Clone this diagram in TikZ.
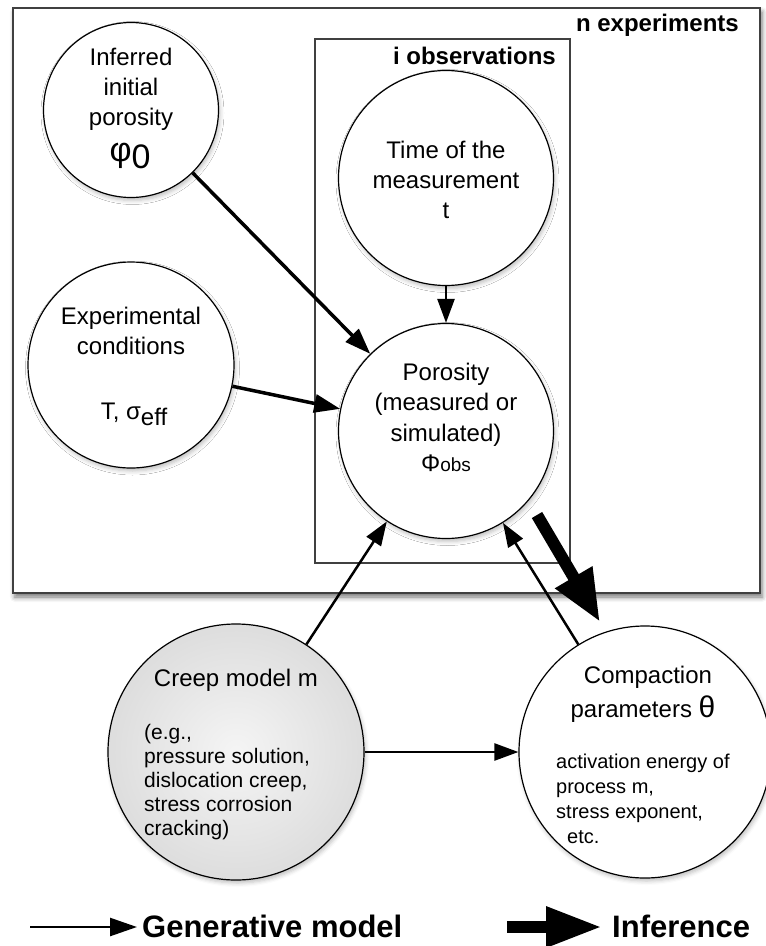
\documentclass[tikz,border=0pt]{standalone}
\usepackage{fontspec}
\setmainfont{Liberation Sans}
\usetikzlibrary{arrows.meta,shadows,shadows.blur}
\pgfdeclareradialshading{creepshade}{\pgfpoint{0bp}{0bp}}{color(0bp)=(gray!8); color(50bp)=(gray!45); color(72bp)=(gray!45)}
\begin{document}
\begin{tikzpicture}[x=1pt,y=-1pt,
  bubble/.style={circle, draw=black, line width=1.2pt, fill=white, inner sep=0pt,
    blur shadow={shadow xshift=1.5pt, shadow yshift=-3pt, shadow blur radius=4pt, shadow opacity=25}},
  txt/.style={inner sep=0pt, font=\fontsize{24}{30}\selectfont, align=center},
  small/.style={inner sep=0pt, font=\fontsize{21}{24}\selectfont, align=left},
  lbl/.style={inner sep=0pt, font=\bfseries\fontsize{24}{28}\selectfont},
  leg/.style={inner sep=0pt, font=\bfseries\fontsize{31}{36}\selectfont},
  arr/.style={-{Triangle[length=24pt,width=17pt,fill=black]}, draw=black, line width=2.5pt, fill opacity=1, draw opacity=1},
  boldarr/.style={-{Triangle[length=26pt,width=18pt,fill=black]}, draw=black, line width=3.5pt, fill opacity=1, draw opacity=1},
  fatarr/.style={-{Triangle[length=52pt,width=40pt,fill=black]}, draw=black, line width=12pt, fill opacity=1, draw opacity=1},
  frame/.style={draw=black!75, line width=1.3pt}
]
\useasboundingbox (0,0) rectangle (766,946);

% plates
\draw[frame, fill=white, blur shadow={shadow xshift=2pt, shadow yshift=-4pt, shadow blur radius=5pt, shadow opacity=55}] (13,8) rectangle (760,593);
\draw[frame] (315,39) rectangle (570,563);
\node[lbl, anchor=base east] (nexp) at (739,31) {n experiments};
\node[lbl, anchor=base east] (iobs) at (556,64) {i observations};

% circles
\node[bubble, minimum size=175pt] (inf) at (131,110) {};
\node[bubble, minimum size=215pt] (time) at (446,178) {};
\node[bubble, minimum size=206pt] (exp) at (131,365) {};
\node[bubble, minimum size=215pt] (por) at (446,431) {};
\node[bubble, minimum size=256pt, shading=creepshade] (creep) at (236,752) {};
\node[bubble, minimum size=252pt] (comp) at (645,752) {};

% texts
\node[txt, anchor=north] (infT) at (131,47.7) {Inferred\\initial\\porosity};
\node[inner sep=0pt, anchor=base, font=\fontsize{34}{34}\selectfont] (infS) at (130,161) {φ\raisebox{-7pt}{0}};
\node[txt, anchor=north] (timeT) at (446,140.7) {Time of the\\measurement\\t};
\node[txt, anchor=north, font=\fontsize{24}{30.5}\selectfont] (porT) at (446,362.7) {Porosity\\(measured or\\simulated)\\Φ{\fontsize{19}{19}\selectfont obs}};
\node[txt, anchor=north] (expT) at (131,307) {Experimental\\conditions};
\node[txt, anchor=base] (expV) at (134,419.5) {T, σ\raisebox{-6pt}{eff}};
\node[txt, anchor=base] (creepT) at (236,686) {Creep model m};
\node[small, anchor=north west] (creepL) at (144,723.7) {(e.g.,\\pressure solution,\\dislocation creep,\\stress corrosion\\cracking)};
\node[txt, anchor=base] (compT) at (648,683) {Compaction};
\node[txt, anchor=base] (compP) at (643,717) {parameters {\fontsize{30}{30}\selectfont θ}};
\node[inner sep=0pt, anchor=north west, align=left, font=\fontsize{20}{25}\selectfont] (compL) at (556,753.6) {activation energy of\\process m,\\stress exponent,\\\hspace*{11pt}etc.};

% connectors
\draw[boldarr] (inf) -- (por);
\draw[boldarr] (exp) -- (por);
\draw[arr] (time) -- (por);
\draw[arr] (creep) -- (por);
\draw[arr] (comp) -- (por);
\draw[arr] (creep) -- (comp);
\coordinate (t1) at (537,515);
\coordinate (t2) at (600,622);
\draw[fatarr] (t1) -- (t2);

% legend
\coordinate (g1) at (30,927);
\coordinate (g2) at (137,927);
\draw[arr, -{Triangle[length=27pt,width=18pt,fill=black]}] (g1) -- (g2);
\node[leg, anchor=base west] (genT) at (142,937) {Generative model};
\coordinate (h1) at (507,927);
\coordinate (h2) at (602,927);
\draw[fatarr, -{Triangle[length=56pt,width=38pt,fill=black]}] (h1) -- (h2);
\node[leg, anchor=base west] (infL) at (612,937) {Inference};
\end{tikzpicture}
\end{document}
